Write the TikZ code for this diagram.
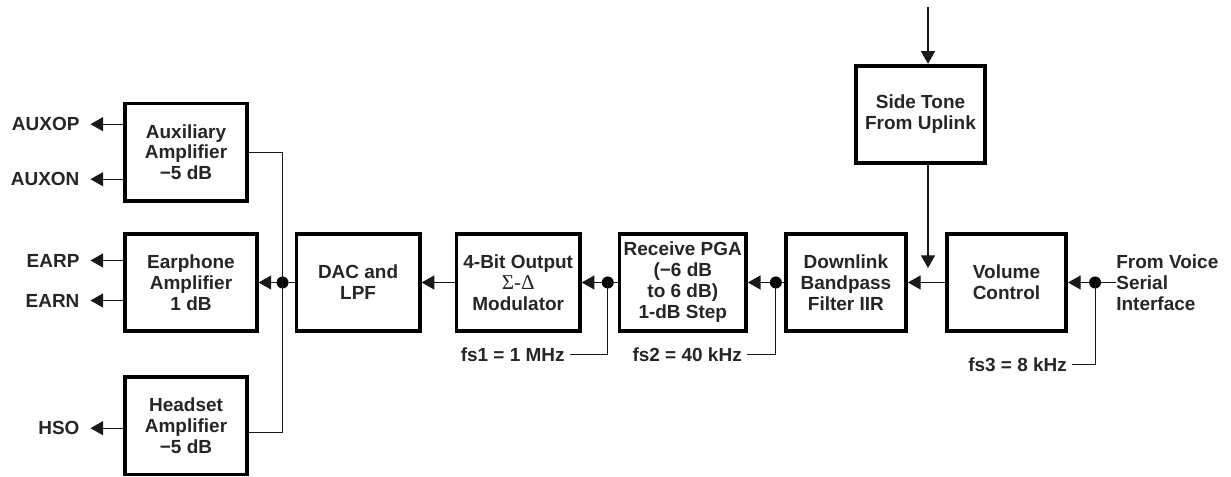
\documentclass[tikz,border=0pt]{standalone}
\usepackage{fontspec}
\setmainfont{Liberation Sans}
\newfontfamily\sigmafont{Liberation Serif}
\usetikzlibrary{positioning,arrows.meta}

\newcommand{\blkfont}{\bfseries\fontsize{13.5}{14.9}\selectfont}

\tikzset{
  block/.style={draw=black, line width=2.6pt, fill=white, minimum height=2.44cm,
    inner sep=1pt, align=center, text=black!85, font=\blkfont},
  wire/.style={draw=black!90, line width=0.75pt},
  sig/.style={wire, -{Triangle[length=9pt,width=10pt]}},
  dot/.style={circle, fill=black, inner sep=0pt, outer sep=0pt, minimum size=0.3cm},
  outlbl/.style={inner sep=0pt, outer xsep=0.275cm, text=black!85, font=\blkfont},
  fslbl/.style={inner xsep=0.12cm, inner ysep=0pt, text=black!85, font=\blkfont},
}

\begin{document}
\begin{tikzpicture}[x=0.025cm, y=-0.025cm]
  \useasboundingbox (0,0) rectangle (1231,477);

  % downlink chain
  \node[block, minimum width=2.985cm] (vol) at (1006.5,282.5) {Volume\\Control};
  \node[block, minimum width=3.01cm, left=0.925cm of vol] (dlink) {Downlink\\Bandpass\\Filter IIR};
  \node[block, minimum width=3.16cm, left=0.9cm of dlink] (pga) {Receive PGA\\(−6 dB\\to 6 dB)\\1-dB Step};
  \node[block, minimum width=3.085cm, left=0.9cm of pga] (mod) {4-Bit Output\\{\sigmafont\mdseries\fontsize{15}{16}\selectfont Σ-Δ}\\Modulator};
  \node[block, minimum width=3.085cm, left=0.825cm of mod] (dac) {DAC and\\LPF};
  \node[block, minimum width=3.285cm, left=0.9cm of dac] (ear) {Earphone\\Amplifier\\1 dB};
  \node[block, minimum width=3.035cm, above right=0.725cm and 0cm of ear.north west] (aux) {Auxiliary\\Amplifier\\−5 dB};
  \node[block, minimum width=3.035cm, below right=1.05cm and 0cm of ear.south west] (hs) {Headset\\Amplifier\\−5 dB};
  \node[block, minimum width=3.235cm] (side) at (920.5,114.5) {Side Tone\\From Uplink};

  % branch points
  \node[dot, right=0.525cm of vol] (d3) {};
  \node[dot, left=0.05cm of dlink] (d2) {};
  \node[dot, left=0.1cm of pga] (d1) {};
  \node[dot, left=0.15cm of dac] (d0) {};

  \node[outlbl, anchor=east] (auxop) at ([shift={(-0.825cm,0.7cm)}]aux.west) {AUXOP};
  \node[outlbl, anchor=east] (auxon) at ([shift={(-0.825cm,-0.675cm)}]aux.west) {AUXON};
  \node[outlbl, anchor=east] (earp) at ([shift={(-0.825cm,0.55cm)}]ear.west) {EARP};
  \node[outlbl, anchor=east] (earn) at ([shift={(-0.825cm,-0.45cm)}]ear.west) {EARN};
  \node[outlbl, anchor=east] (hso) at ([shift={(-0.825cm,-0.06cm)}]hs.west) {HSO};

  \node[fslbl, anchor=east] (fs1) at ([shift={(-0.95cm,-1.8cm)}]d1.center) {fs1 = 1 MHz};
  \node[fslbl, anchor=east] (fs2) at ([shift={(-0.725cm,-1.8cm)}]d2.center) {fs2 = 40 kHz};
  \node[fslbl, anchor=east] (fs3) at ([shift={(-0.575cm,-2.05cm)}]d3.center) {fs3 = 8 kHz};
  \node[inner sep=0pt, anchor=west, align=left, text=black!85, font=\blkfont] (fvsi)
    at ([xshift=0.525cm]d3.center) {From Voice\\Serial\\Interface};

  \coordinate (stin) at (928,7);
  \coordinate (sttip) at (928,268);

  \draw[wire] (fvsi.west) -- (d3);
  \draw[sig] (d3) -- (vol.east);
  \draw[sig] (vol.west) -- (dlink.east);
  \draw[wire] (dlink.west) -- (d2);
  \draw[sig] (d2) -- (pga.east);
  \draw[wire] (pga.west) -- (d1);
  \draw[sig] (d1) -- (mod.east);
  \draw[sig] (mod.west) -- (dac.east);
  \draw[wire] (dac.west) -- (d0);
  \draw[sig] (d0) -- (ear.east);
  \draw[wire] (aux.east) -| (d0.center) |- ([yshift=-0.165cm]hs.east);

  \draw[wire] (d1.center) |- (fs1.east);
  \draw[wire] (d2.center) |- (fs2.east);
  \draw[wire] (d3.center) |- (fs3.east);

  \draw[sig] (stin) -- (stin |- side.north);
  \draw[sig] (stin |- side.south) -- (sttip);

  \draw[sig] (aux.west |- auxop.east) -- (auxop.east);
  \draw[sig] (aux.west |- auxon.east) -- (auxon.east);
  \draw[sig] (ear.west |- earp.east) -- (earp.east);
  \draw[sig] (ear.west |- earn.east) -- (earn.east);
  \draw[sig] (hs.west |- hso.east) -- (hso.east);
\end{tikzpicture}
\end{document}
